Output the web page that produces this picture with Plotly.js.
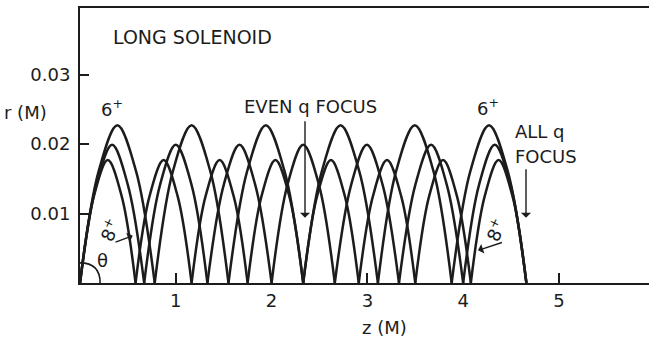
<!DOCTYPE html>
<html>
<head>
<meta charset="utf-8">
<script src="https://cdn.plot.ly/plotly-3.0.1.min.js"></script>
<style>html,body{margin:0;padding:0;background:#fff;}#plot{width:649px;height:339px;}</style>
</head>
<body>
<div id="plot"></div>
<script>
// Trajectory of the 6+ ion: arches separated by null gaps (cusps at focus points)
const z6 = [0, 0.195, 0.39, 0.585, 0.78, null,
            0.78, 0.97, 1.165, 1.36, 1.55, null,
            1.55, 1.745, 1.94, 2.135, 2.33, null,
            2.33, 2.525, 2.72, 2.915, 3.11, null,
            3.11, 3.30, 3.495, 3.69, 3.88, null,
            3.88, 4.075, 4.27, 4.465, 4.66];
const r6 = [0, 0.0161, 0.0227, 0.0161, 0, null,
            0, 0.0161, 0.0227, 0.0161, 0, null,
            0, 0.0161, 0.0227, 0.0161, 0, null,
            0, 0.0161, 0.0227, 0.0161, 0, null,
            0, 0.0161, 0.0227, 0.0161, 0, null,
            0, 0.0161, 0.0227, 0.0161, 0];
// 7+ ion
const z7 = [0, 0.17, 0.335, 0.50, 0.67, null,
            0.67, 0.835, 1.00, 1.165, 1.33, null,
            1.33, 1.50, 1.665, 1.83, 2.00, null,
            2.00, 2.165, 2.33, 2.495, 2.66, null,
            2.66, 2.83, 2.995, 3.16, 3.33, null,
            3.33, 3.50, 3.665, 3.83, 4.00, null,
            4.00, 4.165, 4.33, 4.495, 4.66];
const r7 = [0, 0.0141, 0.0199, 0.0141, 0, null,
            0, 0.0141, 0.0199, 0.0141, 0, null,
            0, 0.0141, 0.0199, 0.0141, 0, null,
            0, 0.0141, 0.0199, 0.0141, 0, null,
            0, 0.0141, 0.0199, 0.0141, 0, null,
            0, 0.0141, 0.0199, 0.0141, 0, null,
            0, 0.0141, 0.0199, 0.0141, 0];
// 8+ ion
const z8 = [0, 0.145, 0.29, 0.435, 0.58, null,
            0.58, 0.726, 0.873, 1.019, 1.165, null,
            1.165, 1.311, 1.458, 1.604, 1.75, null,
            1.75, 1.895, 2.04, 2.185, 2.33, null,
            2.33, 2.475, 2.62, 2.765, 2.91, null,
            2.91, 3.058, 3.205, 3.353, 3.50, null,
            3.50, 3.645, 3.79, 3.935, 4.08, null,
            4.08, 4.225, 4.37, 4.515, 4.66];
const r8 = [0, 0.0125, 0.0177, 0.0125, 0, null,
            0, 0.0125, 0.0177, 0.0125, 0, null,
            0, 0.0125, 0.0177, 0.0125, 0, null,
            0, 0.0125, 0.0177, 0.0125, 0, null,
            0, 0.0125, 0.0177, 0.0125, 0, null,
            0, 0.0125, 0.0177, 0.0125, 0, null,
            0, 0.0125, 0.0177, 0.0125, 0, null,
            0, 0.0125, 0.0177, 0.0125, 0];

const xTickVals = [1, 2, 3, 4, 5];
const xTickText = ['1', '2', '3', '4', '5'];
const yTickVals = [0.01, 0.02, 0.03];
const yTickText = ['0.01', '0.02', '0.03'];

const INK = '#1c1c1c';
const FONT = {family: 'DejaVu Sans', size: 18, color: INK};
const BIG = {family: 'DejaVu Sans', size: 19, color: INK};

const lineStyle = {color: INK, width: 2.5, shape: 'spline', smoothing: 1};
const traces = [
  {x: z6, y: r6, mode: 'lines', line: lineStyle, connectgaps: false, hoverinfo: 'skip', name: '6+'},
  {x: z7, y: r7, mode: 'lines', line: lineStyle, connectgaps: false, hoverinfo: 'skip', name: '7+'},
  {x: z8, y: r8, mode: 'lines', line: lineStyle, connectgaps: false, hoverinfo: 'skip', name: '8+'}
];

function arrow(xh, yh, xt, yt) {
  return {x: xh, y: yh, ax: xt, ay: yt, xref: 'x', yref: 'y', axref: 'x', ayref: 'y',
          text: '', showarrow: true, arrowhead: 1, arrowsize: 1.2, arrowwidth: 1.4,
          arrowcolor: INK, standoff: 0, startstandoff: 0};
}

const layout = {
  width: 649, height: 339,
  margin: {l: 80, r: 0, t: 8, b: 56, pad: 0},
  paper_bgcolor: '#fff', plot_bgcolor: '#fff',
  showlegend: false,
  font: FONT,
  xaxis: {
    range: [0, 5.94], showgrid: false, zeroline: false,
    showline: true, mirror: true, linecolor: INK, linewidth: 2,
    ticks: 'inside', ticklen: 10, tickwidth: 2, tickcolor: INK,
    tickvals: xTickVals, ticktext: xTickText, tickfont: FONT,
    ticklabelstandoff: 0
  },
  yaxis: {
    range: [0, 0.0396], showgrid: false, zeroline: false,
    showline: true, mirror: false, linecolor: INK, linewidth: 2,
    ticks: 'inside', ticklen: 9, tickwidth: 2, tickcolor: INK,
    tickvals: yTickVals, ticktext: yTickText, tickfont: FONT,
    ticklabelstandoff: 4
  },
  annotations: [
    {text: 'LONG SOLENOID', x: 1.17, y: 0.0354, xref: 'x', yref: 'y', showarrow: false, font: BIG},
    {text: 'r (M)', x: -0.095, y: 0.0245, xref: 'paper', yref: 'y', xanchor: 'center', yanchor: 'middle', showarrow: false, font: FONT},
    {text: 'z (M)', x: 0.536, y: -0.16, xref: 'paper', yref: 'paper', xanchor: 'center', yanchor: 'middle', showarrow: false, font: FONT},
    {text: '6<sup>+</sup>', x: 0.334, y: 0.0252, xref: 'x', yref: 'y', showarrow: false, font: FONT},
    {text: '6<sup>+</sup>', x: 4.26, y: 0.0254, xref: 'x', yref: 'y', showarrow: false, font: FONT},
    {text: 'EVEN q FOCUS', x: 2.41, y: 0.0254, xref: 'x', yref: 'y', showarrow: false, font: FONT},
    {text: 'ALL q', x: 4.52, y: 0.02175, xref: 'x', yref: 'y', xanchor: 'left', showarrow: false, font: FONT},
    {text: 'FOCUS', x: 4.52, y: 0.01815, xref: 'x', yref: 'y', xanchor: 'left', showarrow: false, font: FONT},
    {text: '8<sup>+</sup>', x: 0.31, y: 0.0076, xref: 'x', yref: 'y', showarrow: false, textangle: -65, font: FONT},
    {text: '8<sup>+</sup>', x: 4.34, y: 0.0076, xref: 'x', yref: 'y', showarrow: false, textangle: -65, font: FONT},
    {text: 'θ', x: 0.24, y: 0.0033, xref: 'x', yref: 'y', showarrow: false, font: FONT},
    arrow(2.349, 0.0094, 2.349, 0.0235),
    arrow(4.656, 0.0094, 4.656, 0.0166),
    arrow(0.55, 0.0068, 0.355, 0.0058),
    arrow(4.155, 0.0047, 4.42, 0.0059)
  ],
  shapes: [
    {type: 'path', xref: 'x', yref: 'y', path: 'M 0,0.0029 Q 0.21,0.0029 0.21,0',
     line: {color: INK, width: 1.6}}
  ]
};

Plotly.newPlot('plot', traces, layout, {staticPlot: true, displayModeBar: false});
</script>
</body>
</html>
